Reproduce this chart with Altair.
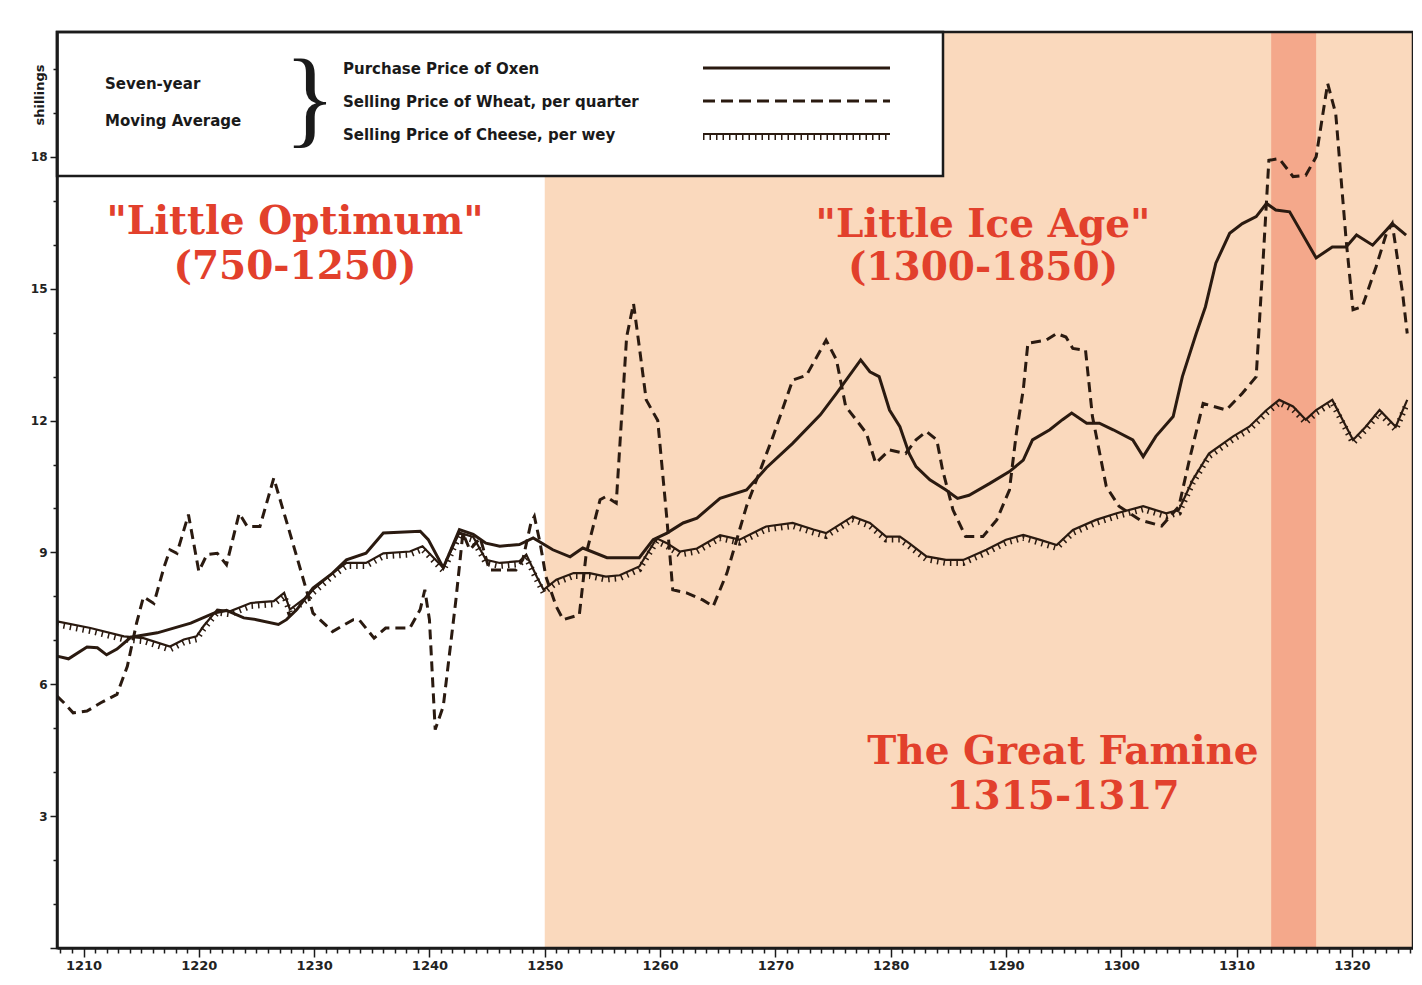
import altair as alt
import pandas as pd

# ---------------- data ----------------
oxen_years = [1207.7, 1208.7, 1210.3, 1211.2, 1212.0, 1212.9, 1214.1, 1216.4, 1219.3, 1221.3,
              1222.4, 1223.9, 1225.0, 1226.9, 1227.6, 1228.5, 1229.9, 1231.6, 1232.8, 1234.5,
              1236.0, 1239.2, 1239.9, 1241.2, 1242.6, 1243.8, 1244.9, 1246.1, 1247.8, 1249.0,
              1250.7, 1252.2, 1253.3, 1255.4, 1258.2, 1259.4, 1260.6, 1262.0, 1263.2, 1265.2,
              1267.5, 1269.2, 1271.5, 1273.9, 1275.3, 1277.4, 1278.2, 1279.0, 1279.9, 1280.8,
              1281.6, 1282.2, 1283.4, 1284.8, 1285.8, 1286.8, 1288.6, 1290.3, 1291.5, 1292.3,
              1293.8, 1294.9, 1295.7, 1297.0, 1298.1, 1299.3, 1301.0, 1301.9, 1303.0, 1304.5,
              1305.3, 1306.5, 1307.3, 1308.2, 1309.4, 1310.5, 1311.7, 1312.6, 1313.4, 1314.6,
              1316.9, 1318.3, 1319.5, 1320.4, 1321.8, 1323.5, 1324.7]
oxen_values = [6.64, 6.58, 6.85, 6.83, 6.67, 6.80, 7.07, 7.17, 7.39, 7.62,
               7.68, 7.51, 7.47, 7.36, 7.47, 7.70, 8.19, 8.53, 8.83, 8.98,
               9.44, 9.48, 9.29, 8.65, 9.52, 9.41, 9.21, 9.14, 9.18, 9.33,
               9.06, 8.90, 9.10, 8.88, 8.88, 9.29, 9.44, 9.67, 9.78, 10.23,
               10.42, 10.92, 11.48, 12.13, 12.62, 13.38, 13.11, 13.00, 12.24, 11.86,
               11.25, 10.95, 10.65, 10.42, 10.23, 10.30, 10.57, 10.84, 11.10, 11.56,
               11.79, 12.02, 12.17, 11.94, 11.94, 11.79, 11.56, 11.18, 11.64, 12.09,
               13.00, 13.98, 14.59, 15.58, 16.26, 16.48, 16.64, 16.94, 16.79, 16.75,
               15.70, 15.95, 15.95, 16.22, 15.99, 16.48, 16.22]

wheat_years = [1207.7, 1208.3, 1209.1, 1210.3, 1211.5, 1212.9, 1213.8, 1214.6, 1215.2, 1216.1,
               1217.0, 1217.5, 1218.1, 1219.1, 1220.0, 1220.7, 1221.6, 1222.4, 1223.5, 1224.2,
               1225.3, 1226.5, 1227.9, 1229.4, 1229.9, 1231.6, 1233.4, 1233.9, 1235.2, 1236.2,
               1238.3, 1239.2, 1239.6, 1240.0, 1240.5, 1241.2, 1242.3, 1242.9, 1243.5, 1244.4,
               1245.2, 1247.5, 1248.1, 1248.8, 1249.1, 1249.6, 1250.1, 1251.0, 1251.6, 1253.0,
               1253.6, 1254.8, 1255.3, 1256.2, 1257.1, 1257.7, 1258.2, 1258.8, 1259.8, 1260.6,
               1261.1, 1262.3, 1263.7, 1264.6, 1265.8, 1267.5, 1269.8, 1271.5, 1272.7, 1274.4,
               1275.3, 1276.1, 1277.0, 1277.9, 1278.7, 1279.9, 1281.3, 1282.2, 1283.1, 1284.0,
               1284.5, 1285.4, 1286.5, 1288.0, 1289.2, 1290.3, 1290.9, 1291.5, 1291.9, 1293.5,
               1294.4, 1295.2, 1295.8, 1296.9, 1297.5, 1298.7, 1299.8, 1301.6, 1303.5, 1305.0,
               1305.9, 1307.1, 1309.1, 1310.5, 1311.7, 1312.3, 1312.8, 1313.7, 1314.9, 1316.0,
               1316.9, 1317.9, 1318.6, 1319.5, 1320.1, 1320.9, 1322.1, 1323.0, 1323.5, 1324.4,
               1324.8]
wheat_values = [5.73, 5.58, 5.35, 5.39, 5.58, 5.77, 6.41, 7.39, 7.99, 7.84,
                8.68, 9.06, 8.98, 9.86, 8.57, 8.95, 8.98, 8.72, 9.89, 9.59,
                9.59, 10.69, 9.44, 8.08, 7.62, 7.20, 7.47, 7.47, 7.05, 7.28,
                7.28, 7.70, 8.15, 7.47, 4.97, 5.50, 7.93, 9.44, 9.06, 9.33,
                8.60, 8.60, 8.84, 9.67, 9.82, 9.21, 8.45, 7.77, 7.47, 7.58,
                8.98, 10.20, 10.27, 10.12, 13.90, 14.66, 13.68, 12.47, 12.00, 9.74,
                8.15, 8.08, 7.92, 7.77, 8.53, 10.05, 11.64, 12.92, 13.03, 13.83,
                13.38, 12.32, 12.02, 11.71, 11.03, 11.33, 11.25, 11.56, 11.75, 11.56,
                10.88, 9.97, 9.36, 9.36, 9.74, 10.42, 11.71, 12.70, 13.76, 13.83,
                13.98, 13.90, 13.64, 13.60, 12.09, 10.50, 10.05, 9.74, 9.60, 10.05,
                11.10, 12.39, 12.24, 12.62, 13.00, 15.65, 17.92, 17.96, 17.55, 17.58,
                18.00, 19.67, 18.98, 16.11, 14.52, 14.59, 15.50, 16.26, 16.48, 14.89,
                13.98]

cheese_years = [1207.7, 1210.6, 1213.5, 1215.2, 1217.5, 1218.7, 1219.8, 1220.4, 1221.6, 1222.7,
                1224.5, 1226.5, 1227.4, 1227.9, 1229.4, 1229.9, 1231.6, 1232.8, 1234.5, 1236.0,
                1238.3, 1239.4, 1241.2, 1242.6, 1243.8, 1244.9, 1246.1, 1247.8, 1248.4, 1249.3,
                1249.9, 1251.0, 1252.5, 1253.9, 1255.3, 1256.5, 1258.2, 1259.7, 1260.6, 1261.7,
                1263.2, 1265.2, 1266.9, 1269.2, 1271.5, 1273.3, 1274.4, 1276.7, 1278.2, 1279.6,
                1280.8, 1281.6, 1283.1, 1284.8, 1286.3, 1288.3, 1290.0, 1291.5, 1292.9, 1294.4,
                1295.8, 1297.8, 1299.6, 1301.9, 1303.9, 1305.0, 1306.2, 1307.6, 1309.7, 1311.1,
                1312.6, 1313.7, 1314.9, 1316.0, 1316.9, 1318.3, 1320.1, 1321.2, 1322.4, 1323.8,
                1324.8]
cheese_values = [7.43, 7.28, 7.09, 7.05, 6.86, 7.02, 7.09, 7.32, 7.70, 7.66,
                 7.85, 7.89, 8.08, 7.70, 8.00, 8.15, 8.53, 8.76, 8.76, 8.98,
                 9.02, 9.14, 8.65, 9.45, 9.35, 8.83, 8.76, 8.80, 8.95, 8.45,
                 8.15, 8.38, 8.53, 8.53, 8.45, 8.48, 8.68, 9.32, 9.21, 9.02,
                 9.09, 9.39, 9.29, 9.59, 9.67, 9.52, 9.44, 9.82, 9.67, 9.36,
                 9.36, 9.21, 8.91, 8.83, 8.83, 9.06, 9.29, 9.40, 9.29, 9.17,
                 9.51, 9.74, 9.89, 10.05, 9.89, 9.97, 10.65, 11.25, 11.64, 11.86,
                 12.24, 12.47, 12.32, 12.02, 12.24, 12.47, 11.56, 11.86, 12.24, 11.86,
                 12.47]

band_starts = [1250.0, 1313.0]
band_ends = [1325.3, 1316.9]
band_colors = ["#fad9bd", "#f4a88b"]

series_labels = ["Purchase Price of Oxen",
                 "Selling Price of Wheat, per quarter",
                 "Selling Price of Cheese, per wey"]
legend_left = ["Seven-year", "Moving Average"]
annotations = ['"Little Optimum"', "(750-1250)",
               '"Little Ice Age"', "(1300-1850)",
               "The Great Famine", "1315-1317"]

x_domain = [1207.7, 1325.3]
y_domain = [0, 20.84]
x_tick_values = list(range(1208, 1326))
y_tick_values = list(range(0, 21))

# ---------------- layout ----------------
W, H = 1356, 916
INK = "#2a1a10"
RED = "#e2402c"

x_scale = alt.Scale(domain=x_domain, nice=False, zero=False)
y_scale = alt.Scale(domain=y_domain, nice=False, zero=False)

x_axis = alt.Axis(
    values=x_tick_values, format="d",
    labelExpr="datum.value % 10 === 0 ? datum.label : ''",
    labelOverlap=False, labelFlush=False,
    tickSize={"condition": {"test": "datum.value % 10 === 0", "value": 9}, "value": 5},
    tickColor="#1b1b1b", tickWidth=1.5,
    domainColor="#1b1b1b", domainWidth=2.5,
    labelFont="DejaVu Sans", labelFontSize=13, labelFontWeight="bold",
    labelColor="#222222", labelPadding=2, grid=False, title=None, zindex=1,
)
y_axis = alt.Axis(
    values=y_tick_values,
    labelExpr="datum.value % 3 === 0 && datum.value > 0 ? datum.label : ''",
    labelOverlap=False, labelFlush=False,
    tickSize={"condition": {"test": "datum.value % 3 === 0", "value": 7}, "value": 4},
    tickColor="#1b1b1b", tickWidth=1.5,
    domainColor="#1b1b1b", domainWidth=2.5,
    labelFont="DejaVu Sans", labelFontSize=12, labelFontWeight="bold",
    labelColor="#222222", labelPadding=3, grid=False, title=None, zindex=1,
)

bands_df = pd.DataFrame({"start": band_starts, "end": band_ends, "color": band_colors})
oxen_df = pd.DataFrame({"year": oxen_years, "value": oxen_values})
wheat_df = pd.DataFrame({"year": wheat_years, "value": wheat_values})
cheese_df = pd.DataFrame({"year": cheese_years, "value": cheese_values})
one = pd.DataFrame({"k": [0]})

bands = alt.Chart(bands_df).mark_rect().encode(
    x=alt.X("start:Q", scale=x_scale, axis=x_axis),
    x2="end:Q",
    y=alt.value(0), y2=alt.value(H),
    color=alt.Color("color:N", scale=None),
)

legend_box = alt.Chart(one).mark_rect(fill="white", stroke="#1b1b1b", strokeWidth=2.5).encode(
    x=alt.value(0), x2=alt.value(886), y=alt.value(0), y2=alt.value(144)
)


def enc(df):
    return alt.Chart(df).encode(
        x=alt.X("year:Q", scale=x_scale, axis=x_axis),
        y=alt.Y("value:Q", scale=y_scale, axis=y_axis),
        order="year:Q",
    )


oxen = enc(oxen_df).mark_line(color=INK, strokeWidth=3)
wheat = enc(wheat_df).mark_line(color=INK, strokeWidth=3, strokeDash=[10, 6])
cheese = enc(cheese_df).mark_line(color=INK, strokeWidth=2.2)
cheese_ticks = enc(cheese_df).mark_line(color=INK, strokeWidth=6, strokeDash=[1.5, 5], yOffset=3)

frame = alt.Chart(one).mark_rect(fillOpacity=0, stroke="#1b1b1b", strokeWidth=2.5).encode(
    x=alt.value(0), x2=alt.value(W), y=alt.value(0), y2=alt.value(H)
)


def txt(s, x, y, size, font="DejaVu Sans", weight="bold", color="#1a1a1a", align="left", angle=0):
    return alt.Chart(one).mark_text(
        font=font, fontSize=size, fontWeight=weight, color=color,
        align=align, baseline="middle", angle=angle,
    ).encode(x=alt.value(x), y=alt.value(y), text=alt.value(s))


legend_layers = [
    txt(legend_left[0], 48, 52, 15),
    txt(legend_left[1], 48, 89, 15),
    txt("}", 253, 70, 108, font="Liberation Serif", weight="normal", align="center"),
    txt(series_labels[0], 286, 37, 15),
    txt(series_labels[1], 286, 70, 15),
    txt(series_labels[2], 286, 103, 15),
    alt.Chart(one).mark_rule(color=INK, strokeWidth=3).encode(
        x=alt.value(646), x2=alt.value(833), y=alt.value(36)),
    alt.Chart(one).mark_rule(color=INK, strokeWidth=3, strokeDash=[12, 6]).encode(
        x=alt.value(646), x2=alt.value(833), y=alt.value(69)),
    alt.Chart(one).mark_rule(color=INK, strokeWidth=2.2).encode(
        x=alt.value(646), x2=alt.value(833), y=alt.value(102)),
    alt.Chart(one).mark_rule(color=INK, strokeWidth=6, strokeDash=[1.5, 5]).encode(
        x=alt.value(646), x2=alt.value(833), y=alt.value(105)),
]

anno_layers = [
    txt(annotations[0], 238, 190, 39, font="DejaVu Serif", color=RED, align="center"),
    txt(annotations[1], 238, 235, 39, font="DejaVu Serif", color=RED, align="center"),
    txt(annotations[2], 926, 193, 39, font="DejaVu Serif", color=RED, align="center"),
    txt(annotations[3], 926, 236, 39, font="DejaVu Serif", color=RED, align="center"),
    txt(annotations[4], 1006, 720, 39, font="DejaVu Serif", color=RED, align="center"),
    txt(annotations[5], 1006, 765, 39, font="DejaVu Serif", color=RED, align="center"),
    txt("shillings", -17, 63, 13, angle=270, align="center"),
]

chart = alt.layer(
    bands, legend_box, cheese, cheese_ticks, wheat, oxen,
    *legend_layers, *anno_layers, frame,
).properties(
    width=W, height=H,
    padding={"left": 49, "top": 24, "right": 0, "bottom": 24},
    autosize=alt.AutoSizeParams(type="none"),
    background="white",
).configure_view(stroke=None)

chart.save("out.html", embed_options={"renderer": "svg", "actions": False})
